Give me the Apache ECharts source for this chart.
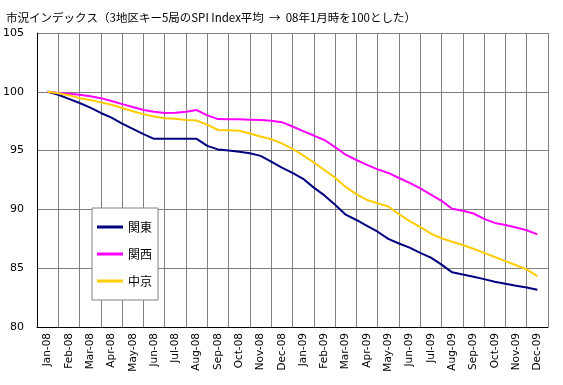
<!DOCTYPE html>
<html><head><meta charset="utf-8">
<script src="https://cdn.jsdelivr.net/npm/echarts@6/dist/echarts.min.js"></script>
<style>html,body{margin:0;padding:0;background:#fff}#c{width:563px;height:385px}</style>
</head><body><div id="c"></div>
<script>
var titleText = '市況インデックス（3地区キー5局のSPI Index平均  →  08年1月時を100とした）';
var months = ['Jan-08','Feb-08','Mar-08','Apr-08','May-08','Jun-08','Jul-08','Aug-08','Sep-08','Oct-08','Nov-08','Dec-08',
              'Jan-09','Feb-09','Mar-09','Apr-09','May-09','Jun-09','Jul-09','Aug-09','Sep-09','Oct-09','Nov-09','Dec-09'];
var seriesNames = ['関東','関西','中京'];
// values sampled every half month, starting at Jan-08
var kanto = [100,99.75,99.4,99.05,98.65,98.2,97.8,97.3,96.85,96.4,96.0,96.0,96.0,96.0,96.0,95.4,95.1,95.0,94.9,94.77,94.55,94.07,
             93.55,93.1,92.6,91.85,91.19,90.4,89.55,89.1,88.6,88.1,87.5,87.1,86.75,86.3,85.9,85.3,84.65,84.47,84.27,84.07,83.85,83.67,83.5,83.36,83.16];
var kansai = [100,99.9,99.83,99.75,99.62,99.46,99.22,98.95,98.7,98.45,98.3,98.2,98.22,98.3,98.45,98.0,97.68,97.67,97.66,97.63,97.6,97.54,
              97.42,97.05,96.65,96.28,95.9,95.3,94.65,94.2,93.78,93.4,93.1,92.67,92.25,91.78,91.25,90.72,90.06,89.88,89.65,89.2,88.85,88.67,88.46,88.23,87.88];
var chubu = [100,99.87,99.7,99.46,99.3,99.1,98.9,98.62,98.35,98.1,97.9,97.76,97.7,97.6,97.55,97.2,96.75,96.72,96.69,96.45,96.2,95.97,
             95.62,95.15,94.6,94.0,93.35,92.7,91.9,91.3,90.8,90.53,90.25,89.6,89.0,88.52,87.94,87.55,87.25,86.97,86.65,86.3,85.95,85.6,85.25,84.9,84.32];
var yTicks = {min:80, max:105, interval:5};

function pairs(arr){ return arr.map(function(v,i){ return [i*0.5, v]; }); }
var colors = ['#000080','#FF00FF','#FFCC00'];
var all = [kanto, kansai, chubu];

var chart = echarts.init(document.getElementById('c'), null, {renderer:'canvas'});
chart.setOption({
  animation:false,
  title:{text:titleText, left:1, top:7, textStyle:{fontFamily:'Noto Sans CJK JP', fontSize:11.5, fontWeight:'normal', color:'#000'}},
  grid:{left:36, right:15, top:33, bottom:58, containLabel:false},
  legend:{
    orient:'vertical', left:92, top:208, width:61,
    data:seriesNames,
    icon:'rect', itemWidth:26, itemHeight:3, itemGap:15,
    padding:[13,6,13,5],
    borderColor:'#808080', borderWidth:1, backgroundColor:'#fff',
    textStyle:{fontFamily:'Noto Sans CJK JP', fontSize:12, color:'#000'}
  },
  xAxis:[{
    type:'category', data:months, boundaryGap:true,
    axisLine:{onZero:false, lineStyle:{color:'#000', width:1}},
    axisTick:{show:false},
    splitLine:{show:true, lineStyle:{color:'#808080', width:1}},
    axisLabel:{rotate:90, fontFamily:'DejaVu Sans', fontSize:10.5, color:'#000', margin:6, interval:0}
  },{
    type:'value', min:-0.5, max:23.5, show:false
  }],
  yAxis:{
    type:'value', min:yTicks.min, max:yTicks.max, interval:yTicks.interval,
    axisLine:{show:true, onZero:false, lineStyle:{color:'#000', width:1}},
    axisTick:{show:false},
    splitLine:{show:true, lineStyle:{color:'#808080', width:1}},
    axisLabel:{fontFamily:'DejaVu Sans', fontSize:11, color:'#000', margin:13}
  },
  series: all.map(function(arr, k){
    return {name:seriesNames[k], type:'line', xAxisIndex:1, data:pairs(arr), showSymbol:false, symbol:'none',
            lineStyle:{color:colors[k], width:2}, itemStyle:{color:colors[k]}, z:3};
  })
});
</script></body></html>
